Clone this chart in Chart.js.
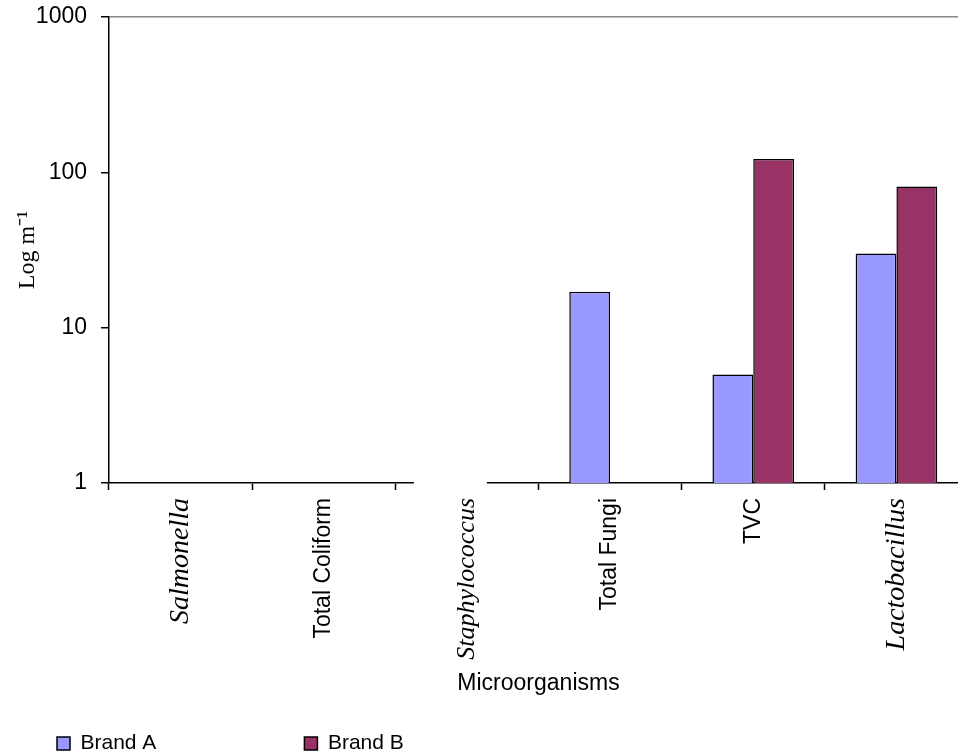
<!DOCTYPE html>
<html>
<head>
<meta charset="utf-8">
<script src="https://cdn.jsdelivr.net/npm/chart.js@4/dist/chart.umd.min.js"></script>
<style>
  html, body { margin: 0; padding: 0; background: #fff; overflow: hidden; }
  #wrap { position: relative; width: 968px; height: 755px; }
</style>
</head>
<body>
<div id="wrap"><canvas id="chart"></canvas></div>
<script>
const categories = ["Salmonella", "Total Coliform", "Staphylococcus", "Total Fungi", "TVC", "Lactobacillus"];
const italicCats = [0, 2, 5];
const brandA = [null, null, null, 17, 5, 30];
const brandB = [null, null, null, null, 122, 81];
const yTicks = [1, 10, 100, 1000];

const sans = "'Liberation Sans', Arial, sans-serif";
const serif = "'Liberation Serif', 'Times New Roman', serif";
Chart.defaults.color = "#000";

// white patch over the axis line behind the Staphylococcus label, as in the original
const axisGap = {
  id: "axisGap",
  afterDraw(chart) {
    const x = chart.scales.x;
    const cx = x.getPixelForTick(2);
    const ctx = chart.ctx;
    ctx.save();
    ctx.fillStyle = "#fff";
    ctx.fillRect(cx - 53, x.top - 3, 73, 6);
    ctx.restore();
  },
};

// move the legend row to line up under the y axis labels
const legendShift = {
  id: "legendShift",
  beforeDraw(chart) {
    chart.legend.left = chart.chartArea.left - 60;
  },
};

new Chart(document.getElementById("chart"), {
  type: "bar",
  data: {
    labels: categories,
    datasets: [
      {
        label: "Brand A",
        data: brandA,
        backgroundColor: "#9999FF",
        borderColor: "#000",
        borderWidth: 1.5,
        categoryPercentage: 0.57,
        barPercentage: 1,
      },
      {
        label: "Brand B",
        data: brandB,
        backgroundColor: "#993366",
        borderColor: "#000",
        borderWidth: 1.5,
        categoryPercentage: 0.57,
        barPercentage: 1,
      },
    ],
  },
  options: {
    responsive: true,
    maintainAspectRatio: false,
    animation: false,
    layout: { padding: { top: 17, left: 8, right: 0, bottom: 0 } },
    plugins: {
      tooltip: { enabled: false },
      legend: {
        position: "bottom",
        align: "start",
        maxHeight: 30,
        labels: {
          boxWidth: 13,
          boxHeight: 13,
          padding: 8,
          font: { family: sans, size: 21 },
          generateLabels(chart) {
            const items = Chart.defaults.plugins.legend.labels.generateLabels(chart);
            items.forEach((it, i) => {
              it.lineWidth = 1.5;
              it.strokeStyle = "#000";
              if (i === 0) it.text = it.text + " ".repeat(24);
            });
            return items;
          },
        },
      },
    },
    scales: {
      x: {
        grid: {
          display: true,
          drawOnChartArea: false,
          offset: true,
          tickLength: 7,
          tickColor: "#000",
          tickWidth: 1.5,
        },
        border: { color: "#000", width: 1.5 },
        ticks: {
          minRotation: 90,
          maxRotation: 90,
          padding: 8,
          autoSkip: false,
          color: "#000",
          font: (ctx) =>
            italicCats.includes(ctx.index)
              ? { family: serif, size: ctx.index === 2 ? 26 : 28, style: "italic" }
              : { family: sans, size: 23 },
        },
        title: {
          display: true,
          text: "Microorganisms",
          color: "#000",
          font: { family: sans, size: 23 },
          padding: { top: 0, bottom: 28 },
        },
        afterFit(scale) {
          scale.height = 242;
        },
      },
      y: {
        type: "logarithmic",
        min: 1,
        max: 1000,
        afterBuildTicks(scale) {
          scale.ticks = yTicks.map((v) => ({ value: v }));
        },
        grid: {
          color: (ctx) => (ctx.tick && ctx.tick.value === 1000 ? "#888" : "rgba(0,0,0,0)"),
          tickColor: "#000",
          tickLength: 8,
          tickWidth: 1.5,
          lineWidth: 1.5,
        },
        border: { color: "#000", width: 1.5 },
        ticks: {
          padding: 14,
          color: "#000",
          font: { family: sans, size: 23 },
          callback: (v) => String(v),
        },
        title: {
          display: true,
          text: "Log m⁻¹",
          color: "#000",
          font: { family: serif, size: 24 },
          padding: { top: 5, bottom: 0 },
        },
        afterFit(scale) {
          scale.width = 101;
          scale.paddingTop = 0;
          scale.paddingBottom = 0;
        },
      },
    },
  },
  plugins: [axisGap, legendShift],
});
</script>
</body>
</html>
